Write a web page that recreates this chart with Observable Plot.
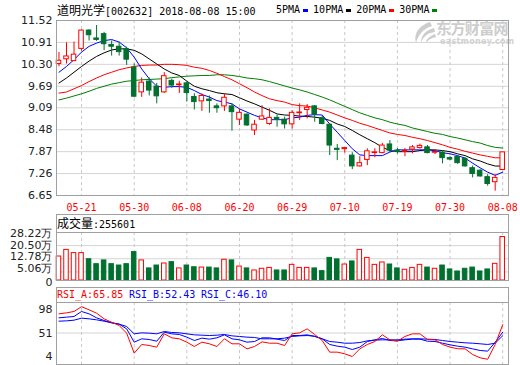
<!DOCTYPE html>
<html>
<head>
<meta charset="utf-8">
<script src="https://cdn.jsdelivr.net/npm/d3@7"></script>
<script src="https://cdn.jsdelivr.net/npm/@observablehq/plot@0.6"></script>
<style>
html,body{margin:0;padding:0;background:#fff;}
#root{position:relative;width:520px;height:365px;overflow:hidden;background:#fff;}
.t{position:absolute;white-space:nowrap;line-height:14px;}
.mono{font-family:"DejaVu Sans Mono",monospace;font-size:10px;}
.cjk{font-family:"Noto Sans CJK SC",sans-serif;font-size:12px;}
.box{position:absolute;border:1px solid #a0a0a0;box-sizing:border-box;}
.sq{display:inline-block;width:5px;height:3px;vertical-align:middle;margin:0 5px 0 3px;}
.panel{position:absolute;left:0;}
</style>
</head>
<body>
<div id="root">
  <div class="t mono" style="left:57px;top:3px;color:#000"><span class="cjk">道明光学</span>[002632] 2018-08-08 15:00</div>
  <div class="t mono" style="left:276px;top:3px;color:#000">5PMA<span class="sq" style="background:#0000ff"></span>10PMA<span class="sq" style="background:#000"></span>20PMA<span class="sq" style="background:#ff0000"></span>30PMA<span class="sq" style="background:#008000"></span></div>
  <svg width="26" height="23" style="position:absolute;left:410px;top:21px">
    <path d="M20 1 C 10 4, 3 12, 6 22 C 8 14, 13 8, 22 5 Z" fill="#cdcdcd"/>
    <path d="M24 7 C 16 9, 11 14, 11 22 C 13 16, 17 12, 25 11 Z" fill="#cdcdcd"/>
    <path d="M25 13 C 20 15, 16 18, 16 22 C 18 19, 21 17, 26 16 Z" fill="#cdcdcd"/>
  </svg>
  <div class="t" style="left:436px;top:20px;font:bold 15px 'Noto Sans CJK SC';line-height:15px;color:#cdcdcd;letter-spacing:-0.6px;">东方财富网</div>
  <div class="t" style="left:440px;top:38px;font:bold 8px 'DejaVu Sans';line-height:8px;color:#d2d2d2;letter-spacing:0.3px;">eastmoney.com</div>
  <div class="box" style="left:56px;top:214px;width:453px;height:19px;"></div>
  <div class="t mono" style="left:57px;top:216px;color:#000"><span class="cjk">成交量</span>:255601</div>
  <div class="box" style="left:56px;top:287px;width:453px;height:16px;"></div>
  <div class="t mono" style="left:57px;top:288px;color:#ff0000">RSI_A:65.85</div>
  <div class="t mono" style="left:129px;top:288px;color:#0000ff">RSI_B:52.43</div>
  <div class="t mono" style="left:201px;top:288px;color:#0000ff">RSI_C:46.10</div>
</div>
<script>
const dates = ["05-16","05-17","05-18","05-21","05-22","05-23","05-24","05-25","05-28","05-29",
"05-30","05-31","06-01","06-04","06-05","06-06","06-07","06-08","06-11","06-12",
"06-13","06-14","06-15","06-19","06-20","06-21","06-22","06-25","06-26","06-27",
"06-28","06-29","07-02","07-03","07-04","07-05","07-06","07-09","07-10","07-11",
"07-12","07-13","07-16","07-17","07-18","07-19","07-20","07-23","07-24","07-25",
"07-26","07-27","07-30","07-31","08-01","08-02","08-03","08-06","08-07","08-08"];

const openP = [10.31,10.44,10.39,10.73,11.24,11.02,11.14,10.84,10.79,10.72,
10.21,9.52,9.82,9.68,9.52,9.84,9.72,9.77,9.39,9.27,
9.32,9.13,9.13,9.13,8.76,8.90,8.46,8.76,8.64,8.81,
8.76,8.63,8.94,9.03,9.13,8.80,8.62,7.95,7.94,7.76,
7.46,7.64,7.83,7.83,8.07,7.90,7.87,7.93,7.97,7.99,
7.84,7.84,7.69,7.72,7.67,7.41,7.34,7.16,7.02,7.36];
const highP = [10.63,10.90,10.92,11.26,11.26,11.38,11.19,10.95,10.92,10.78,
10.31,9.92,9.92,9.77,10.07,9.89,9.83,9.80,9.48,9.48,
9.42,9.20,9.48,9.20,9.06,8.92,8.74,9.15,9.06,8.89,
8.83,9.01,9.20,9.18,9.15,8.86,8.65,8.07,7.97,7.84,
7.73,7.95,7.95,8.10,8.18,7.96,7.96,8.04,8.08,8.04,
7.90,7.90,7.73,7.76,7.70,7.47,7.37,7.23,7.23,7.85];
const lowP = [10.23,10.31,10.38,10.67,10.95,10.94,10.68,10.53,10.53,10.27,
9.37,9.38,9.42,9.20,9.49,9.63,9.49,9.25,9.03,8.99,
8.94,8.94,8.99,8.44,8.60,8.57,8.32,8.74,8.60,8.55,
8.50,8.50,8.74,8.78,8.69,8.62,7.76,7.62,7.83,7.37,
7.44,7.48,7.70,7.81,7.85,7.80,7.73,7.81,7.94,7.81,
7.79,7.53,7.62,7.52,7.44,7.14,7.16,6.91,6.77,7.36];
const closeP = [10.40,10.52,10.57,11.24,11.11,10.98,10.86,10.79,10.64,10.43,
9.40,9.79,9.57,9.41,9.97,9.71,9.74,9.50,9.25,9.42,
9.28,9.08,9.37,8.97,8.95,8.60,8.62,8.85,8.81,8.76,
8.63,8.95,8.96,9.09,8.90,8.64,8.04,7.92,7.97,7.46,
7.55,7.88,7.85,8.04,7.90,7.86,7.89,7.99,8.03,7.83,
7.86,7.69,7.65,7.55,7.46,7.25,7.18,6.97,7.14,7.85];

const ma5 = [10.08,10.24,10.43,10.64,10.80,10.89,10.96,10.99,10.92,10.76,
10.50,10.17,9.90,9.69,9.66,9.68,9.68,9.66,9.57,9.46,
9.39,9.29,9.25,9.20,9.06,8.97,8.88,8.81,8.76,8.76,
8.76,8.81,8.83,8.88,8.90,8.89,8.64,8.41,8.18,7.95,
7.78,7.76,7.76,7.76,7.86,7.92,7.92,7.92,7.92,7.92,
7.90,7.84,7.81,7.76,7.69,7.55,7.42,7.30,7.21,7.30];
const ma10 = [9.78,9.92,10.08,10.24,10.39,10.52,10.62,10.70,10.73,10.73,
10.69,10.59,10.45,10.31,10.17,10.06,9.99,9.83,9.69,9.62,
9.57,9.51,9.48,9.46,9.37,9.28,9.20,9.11,9.02,8.92,
8.89,8.88,8.86,8.85,8.83,8.80,8.74,8.64,8.57,8.46,
8.34,8.23,8.12,7.99,7.90,7.87,7.87,7.87,7.90,7.92,
7.92,7.90,7.87,7.81,7.76,7.67,7.61,7.53,7.47,7.47];
const ma20 = [9.50,9.53,9.62,9.71,9.82,9.92,10.01,10.08,10.15,10.20,
10.24,10.27,10.28,10.28,10.30,10.30,10.29,10.27,10.22,10.19,
10.13,10.05,9.96,9.87,9.76,9.65,9.53,9.43,9.34,9.29,
9.25,9.18,9.15,9.14,9.09,9.03,8.97,8.89,8.81,8.74,
8.66,8.60,8.53,8.46,8.39,8.35,8.32,8.27,8.23,8.18,
8.12,8.06,7.99,7.94,7.88,7.83,7.78,7.74,7.70,7.70];
const ma30 = [9.31,9.36,9.42,9.48,9.55,9.63,9.69,9.75,9.79,9.83,
9.85,9.87,9.88,9.89,9.90,9.93,9.95,9.97,9.98,9.99,
9.99,10.01,10.01,9.99,9.96,9.92,9.90,9.87,9.82,9.76,
9.70,9.64,9.59,9.53,9.46,9.39,9.31,9.22,9.13,9.04,
8.95,8.88,8.81,8.76,8.69,8.64,8.60,8.53,8.48,8.43,
8.38,8.35,8.29,8.25,8.20,8.15,8.11,8.04,7.99,7.97];

// volume in 万 (10k shares)
const volume = [14.1,18.0,16.1,16.1,12.5,9.6,11.8,9.6,8.8,9.6,
16.7,11.8,7.1,8.8,10.0,10.8,7.1,8.8,7.8,7.6,
7.6,7.1,12.2,11.8,8.2,7.1,5.9,6.9,7.4,5.9,
5.9,9.2,7.4,7.4,7.1,5.5,13.3,12.4,9.4,11.2,
18.0,13.3,9.2,10.6,9.4,7.1,6.3,7.4,9.2,7.6,
6.9,8.8,6.5,5.3,6.9,7.6,5.3,6.5,9.8,25.56];

const rsiA = [85.2,87.0,89.4,98.0,92.4,86.4,76.3,70.3,64.4,50.7,
15.0,30.5,28.7,25.7,49.5,42.4,40.6,34.6,26.9,34.6,
31.7,26.9,40.6,31.7,31.7,22.7,26.9,35.2,32.8,32.8,
28.7,49.5,51.3,58.4,48.3,37.6,16.8,16.8,13.8,9.0,
22.7,30.5,35.8,47.7,38.8,36.4,44.8,49.5,49.5,39.4,
38.8,30.5,25.7,22.9,22.7,12.6,6.7,4.1,30.5,65.85];
const rsiB = [78.1,79.3,80.5,89.4,85.2,78.1,73.3,69.2,66.8,58.4,
34.6,40.6,39.4,36.4,52.5,49.5,48.3,43.6,37.6,41.8,
40.0,42.4,47.7,40.6,38.8,34.6,35.8,42.4,42.4,40.0,
37.6,46.5,46.5,47.7,44.8,40.6,30.5,27.5,25.7,21.5,
25.7,35.8,38.8,41.2,37.6,37.0,38.8,40.0,40.0,36.4,
35.8,32.8,29.9,27.5,25.7,22.7,19.8,18.6,34.6,52.43];
const rsiC = [72.1,72.7,73.9,77.5,76.3,74.5,72.1,69.2,66.8,62.6,
49.5,51.3,50.7,49.5,53.7,51.9,51.3,49.5,47.7,47.1,
46.5,47.1,48.3,45.9,44.8,43.6,43.0,40.6,40.6,40.6,
41.8,44.8,45.9,46.5,45.3,40.6,35.8,34.6,32.8,32.8,
34.0,37.0,38.2,38.8,38.8,38.8,40.0,40.6,40.6,40.0,
39.4,37.6,35.8,34.6,33.5,32.8,31.7,30.5,32.8,46.10];

const priceTicks = [11.52,10.91,10.30,9.69,9.09,8.48,7.87,7.26,6.65];
const volTicks = [0,5.06,12.78,20.50,28.22];
const rsiTicks = [98,51,4];
const tickDates = ["05-21","05-30","06-08","06-20","06-29","07-10","07-19","07-30","08-08"];

const RED = "#ff0000", GREEN = "#00702e", GRID = "#d4d4d4", VGRID = "#c8c8c8", FRAME = "#a0a0a0";
const idx = d3.range(dates.length);
const rows = idx.map(i => ({i, o: openP[i], h: highP[i], l: lowP[i], c: closeP[i], v: volume[i], up: closeP[i] >= openP[i]}));
const xTicks = tickDates.map(t => dates.indexOf(t));
const xDomain = [-0.33, dates.length - 0.23];
const hw = 0.3;
const common = {width: 520, marginLeft: 56, marginRight: 12,
  style: {background: "transparent", overflow: "visible", fontFamily: "DejaVu Sans, sans-serif", fontSize: "11px"}};
const lbl = {tickSize: 0, tickPadding: 4, fill: "#222", fontSize: 11, fontFamily: "DejaVu Sans", label: null};
const volFmt = d => d === 0 ? "0" : d.toFixed(2) + "万";

const main = Plot.plot({
  ...common, height: 212, marginTop: 20, marginBottom: 17,
  x: {type: "linear", domain: xDomain},
  y: {domain: [6.65, 11.52]},
  marks: [
    Plot.gridY(priceTicks, {stroke: GRID, strokeOpacity: 1}),
    Plot.gridX(xTicks, {stroke: VGRID, strokeOpacity: 1, strokeDasharray: "3,3"}),
    Plot.axisY(priceTicks, {...lbl, tickFormat: d => d.toFixed(2)}),
    Plot.axisX(xTicks, {tickSize: 0, tickPadding: 8, tickFormat: i => dates[i], fill: RED, fontSize: 10, fontFamily: "DejaVu Sans Mono", label: null}),
    Plot.line(ma30, {x: (d, i) => i, y: d => d, stroke: "#008000", strokeWidth: 1}),
    Plot.line(ma20, {x: (d, i) => i, y: d => d, stroke: RED, strokeWidth: 1}),
    Plot.line(ma10, {x: (d, i) => i, y: d => d, stroke: "#000", strokeWidth: 1}),
    Plot.line(ma5, {x: (d, i) => i, y: d => d, stroke: "#0000ff", strokeWidth: 1}),
    Plot.ruleX(rows, {filter: d => d.up, x: "i", y1: "l", y2: "h", stroke: RED}),
    Plot.ruleX(rows, {filter: d => !d.up, x: "i", y1: "l", y2: "h", stroke: GREEN}),
    Plot.rect(rows, {filter: d => d.up, x1: d => d.i - hw, x2: d => d.i + hw, y1: "o", y2: "c", fill: "#fff", stroke: RED}),
    Plot.rect(rows, {filter: d => !d.up, x1: d => d.i - hw, x2: d => d.i + hw, y1: "o", y2: "c", fill: GREEN, stroke: GREEN}),
    Plot.frame({stroke: FRAME})
  ]
});
main.classList.add("panel"); main.style.top = "0px";

const vol = Plot.plot({
  ...common, height: 70, marginTop: 20, marginBottom: 2,
  x: {type: "linear", domain: xDomain, axis: null},
  y: {domain: [0, 28.22]},
  marks: [
    Plot.gridY(volTicks, {stroke: GRID, strokeOpacity: 1}),
    Plot.gridX(xTicks, {stroke: VGRID, strokeOpacity: 1, strokeDasharray: "3,3"}),
    Plot.axisY([volTicks[4]], {...lbl, tickFormat: volFmt, dy: 0.5}),
    Plot.axisY([volTicks[3]], {...lbl, tickFormat: volFmt, dy: -0.6}),
    Plot.axisY([volTicks[2]], {...lbl, tickFormat: volFmt, dy: -1.8}),
    Plot.axisY([volTicks[1]], {...lbl, tickFormat: volFmt, dy: -3.2}),
    Plot.axisY([volTicks[0]], {...lbl, tickFormat: volFmt, dy: 1.5}),
    Plot.rect(rows, {filter: d => d.up, x1: d => d.i - hw, x2: d => d.i + hw, y1: 0, y2: "v", fill: "#fff", stroke: RED}),
    Plot.rect(rows, {filter: d => !d.up, x1: d => d.i - hw, x2: d => d.i + hw, y1: 0, y2: "v", fill: GREEN, stroke: GREEN}),
    Plot.frame({stroke: FRAME})
  ]
});
vol.classList.add("panel"); vol.style.top = "212px";

const rsi = Plot.plot({
  ...common, height: 83, marginTop: 20, marginBottom: 1,
  x: {type: "linear", domain: xDomain, axis: null},
  y: {domain: [-5.25, 105.46]},
  marks: [
    Plot.gridY([rsiTicks[1]], {stroke: GRID, strokeOpacity: 1}),
    Plot.gridX(xTicks, {stroke: VGRID, strokeOpacity: 1, strokeDasharray: "3,3"}),
    Plot.axisY([rsiTicks[0]], {...lbl, dy: 3}),
    Plot.axisY([rsiTicks[1]], {...lbl}),
    Plot.axisY([rsiTicks[2]], {...lbl, dy: -3}),
    Plot.line(rsiC, {x: (d, i) => i, y: d => d, stroke: "#0000ff", strokeWidth: 1}),
    Plot.line(rsiB, {x: (d, i) => i, y: d => d, stroke: "#0000ff", strokeWidth: 1}),
    Plot.line(rsiA, {x: (d, i) => i, y: d => d, stroke: RED, strokeWidth: 1}),
    Plot.frame({stroke: FRAME})
  ]
});
rsi.classList.add("panel"); rsi.style.top = "282px";

const root = document.getElementById("root");
root.appendChild(main);
root.appendChild(vol);
root.appendChild(rsi);
</script>
</body>
</html>
